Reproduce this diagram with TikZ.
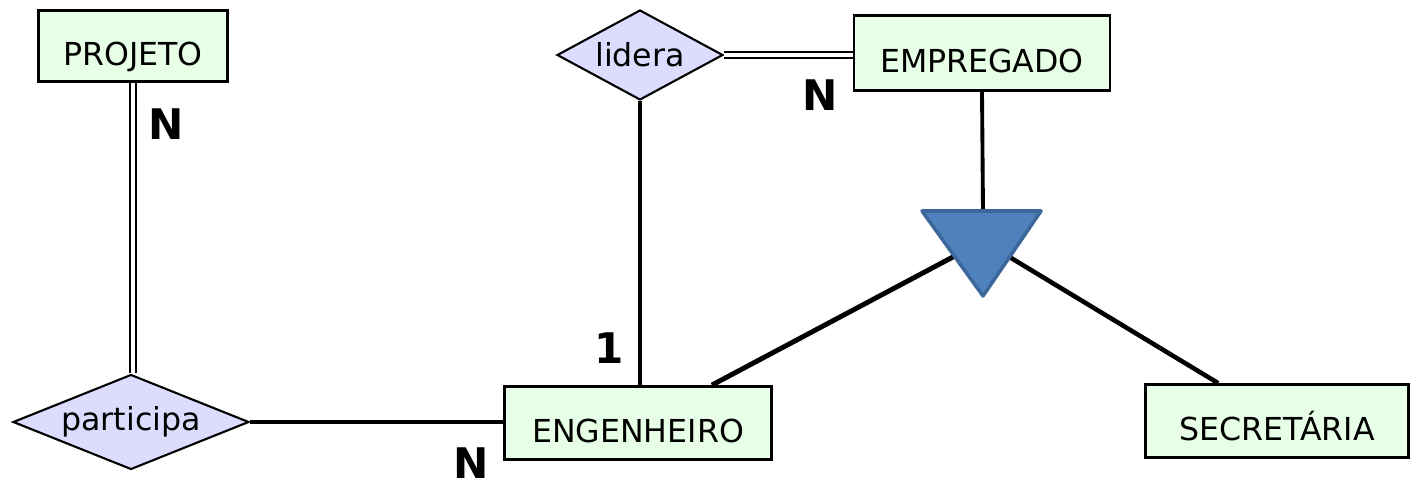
\documentclass[tikz,border=0pt]{standalone}
\usepackage{fontspec}
\setmainfont{DejaVu Sans}
\usepackage{tikz}
\usetikzlibrary{calc}
\usetikzlibrary{shapes.geometric}
\usetikzlibrary{positioning}
\definecolor{entgreen}{HTML}{E6FFE6}
\definecolor{rellilac}{HTML}{DCDCFF}
\definecolor{isablue}{HTML}{4F81BD}
\definecolor{isaedge}{HTML}{3C679B}
\tikzset{ent/.style={rectangle,fill=entgreen,draw=black,line width=1.6pt,inner sep=3pt,font=\fontsize{18}{20}\selectfont,text height=22pt,text depth=0pt}}
\tikzset{rel/.style={diamond,aspect=2.4,fill=rellilac,draw=black,line width=1.2pt,inner sep=0pt,font=\fontsize{18}{20}\selectfont}}
\tikzset{card/.style={font=\fontsize{24}{24}\selectfont\bfseries,inner sep=0pt}}

\begin{document}
\begin{tikzpicture}[x=0.02cm,y=-0.02cm]
\useasboundingbox (0,0) rectangle (1410,486);
\node[ent, minimum width=3.78cm, minimum height=1.42cm] (proj) at (133,46) {PROJETO};
\node[ent, minimum width=5.12cm, minimum height=1.5cm] (emp) at (982,53) {EMPREGADO};
\node[ent, minimum width=5.34cm, minimum height=1.46cm] (eng) at (638,423) {ENGENHEIRO};
\node[ent, minimum width=5.26cm, minimum height=1.46cm] (sec) at (1277,421) {SECRET\'ARIA};
\node[rel, minimum width=3.32cm, minimum height=1.8cm] (lid) at (640,55) {lidera};
\node[rel, minimum width=4.72cm, minimum height=1.9cm] (part) at (131,422) {participa};
\coordinate (isa) at (983,241);
\coordinate (isatop) at (983,211);

\draw[line width=1.6pt, double, double distance=1.8pt] (proj.south) -- (proj.south |- part.north);
\draw[line width=1.6pt, double, double distance=1.8pt] (lid.east) -- (emp.west |- lid.east);
\draw[line width=2pt] (lid.south) -- (lid.south |- eng.north);
\draw[line width=2pt] (part.east) -- (part.east -| eng.west);
\draw[line width=2.2pt] (emp.south) -- (isatop);
\draw[line width=2.8pt] (isa) -- ($(eng.north east)+(-61,0)$);
\draw[line width=2.6pt] (isa) -- ($(sec.north west)+(74,0)$);

\filldraw[fill=isablue, draw=isaedge, line width=2pt, line join=round] (922,211) -- (1041,211) -- (983,296) -- cycle;

\node[card] (n1) at (166,124) {N};
\node[card] (n2) at (820,95) {N};
\node[card] (c1) at (609,348) {1};
\node[card] (n3) at (471,463) {N};

\end{tikzpicture}
\end{document}
